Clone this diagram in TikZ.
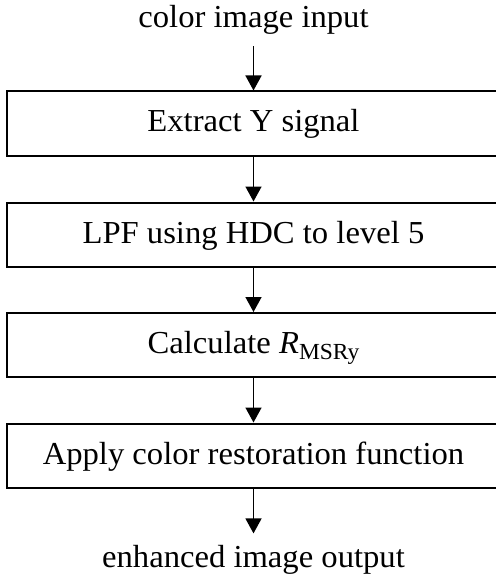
\documentclass[tikz,border=0pt]{standalone}
\usepackage{fontspec}
\setmainfont{Liberation Serif}[FakeStretch=1.02]
\usetikzlibrary{arrows.meta}

\begin{document}
\begin{tikzpicture}[x=0.5pt,y=-0.5pt,
    font=\fontsize{16}{19}\selectfont,
    stepbox/.style={draw,line width=1pt,inner sep=0pt,minimum width=246.5pt,
      minimum height=32pt,text height=1.05em,text depth=0.2em},
    endtext/.style={inner sep=5.5pt,anchor=base},
    flow/.style={line width=0.75pt,-{Triangle[width=8pt,length=7.5pt]}}]
  \useasboundingbox (0,0) rectangle (496,583);
  \node[endtext] (input) at (253.5,28) {color image input};
  \node[stepbox] (extract) at (253.5,123.5) {Extract Y signal};
  \node[stepbox] (lpf) at (253.5,234.5) {LPF using HDC to level 5};
  \node[stepbox] (calc) at (253.5,345) {Calculate \textit{R}\raisebox{-3pt}{\fontsize{11.5}{12}\selectfont MSRy}};
  \node[stepbox] (restore) at (253.5,455.5) {Apply color restoration function};
  \node[endtext] (output) at (253.5,567) {enhanced image output};
  \draw[flow] (input) -- (extract);
  \draw[flow] (extract) -- (lpf);
  \draw[flow] (lpf) -- (calc);
  \draw[flow] (calc) -- (restore);
  \draw[flow] (restore) -- (output);
\end{tikzpicture}
\end{document}
